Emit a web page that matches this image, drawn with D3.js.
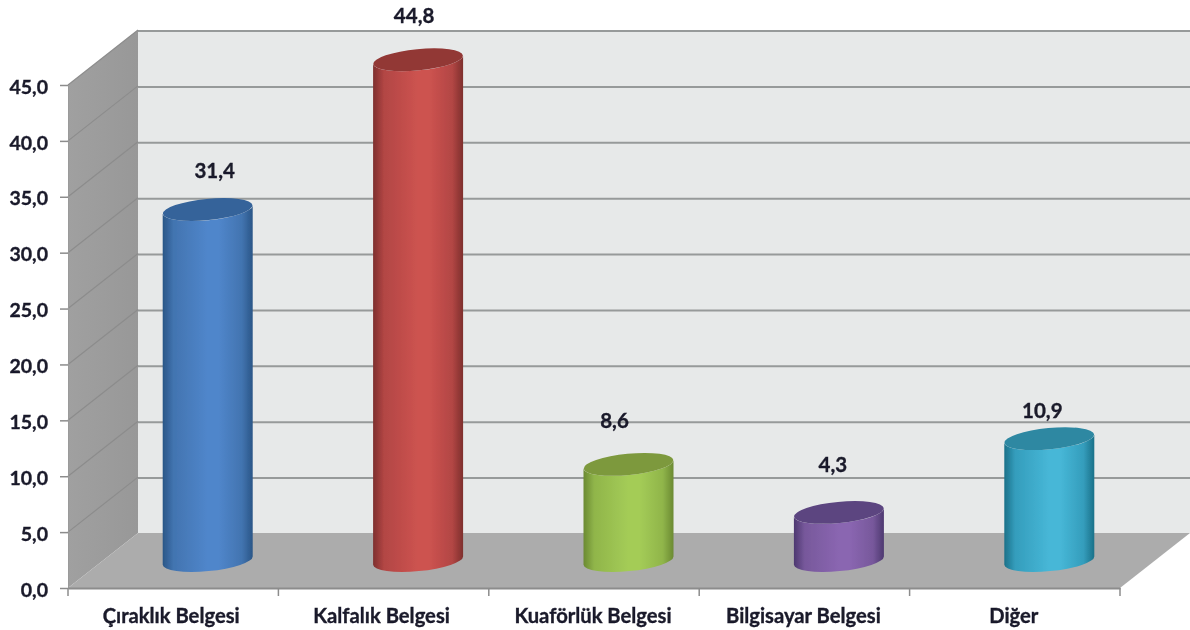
<!DOCTYPE html>
<html>
<head>
<meta charset="utf-8">
<script src="https://cdn.jsdelivr.net/npm/d3@7"></script>
<style>
html,body{margin:0;padding:0;background:#fff;}
svg{display:block;}
text{font-family:Lato,"Open Sans",sans-serif;font-weight:700;fill:#1a1a2a;stroke:#1a1a2a;stroke-width:0.35px;}
</style>
</head>
<body>
<svg id="chart" width="1190" height="630"></svg>
<script>
const categories = ["Çıraklık Belgesi","Kalfalık Belgesi","Kuaförlük Belgesi","Bilgisayar Belgesi","Diğer"];
const values = [31.4,44.8,8.6,4.3,10.9];
const valueLabels = ["31,4","44,8","8,6","4,3","10,9"];
const yTicks = [0,5,10,15,20,25,30,35,40,45];
const palette = [
  {edge:"#2a5687",mid:"#4274b0",light:"#5086cb",top:"#35639a"},
  {edge:"#7e2f2d",mid:"#b24644",light:"#cd5350",top:"#923735"},
  {edge:"#6b8a32",mid:"#90b54a",light:"#a4cc57",top:"#7d993c"},
  {edge:"#4d3870",mid:"#77589b",light:"#8a66b1",top:"#5c4580"},
  {edge:"#1b7189",mid:"#349dbc",light:"#47b7d7",top:"#2d88a2"}
];

const svg = d3.select("#chart");
const x0 = 68, x1 = 1120, yBase = 588, yTop = 85, depthX = 70, depthY = 55;
const y = d3.scaleLinear().domain([0,45]).range([yBase,yTop]);
const x = d3.scaleBand().domain(categories).range([x0,x1]);
const defs = svg.append("defs");

defs.append("filter").attr("id","soft").append("feGaussianBlur").attr("stdDeviation",0.6);
const sideGrad = defs.append("linearGradient").attr("id","side").attr("x1",0).attr("x2",1).attr("y1",0).attr("y2",0);
sideGrad.append("stop").attr("offset",0).attr("stop-color","#a0a0a0");
sideGrad.append("stop").attr("offset",1).attr("stop-color","#989898");

palette.forEach((p,i)=>{
  const g = defs.append("linearGradient").attr("id","cyl"+i).attr("x1",0).attr("x2",1).attr("y1",0).attr("y2",0);
  [[0,p.edge],[0.12,p.mid],[0.5,p.light],[0.62,p.light],[0.88,p.mid],[1,p.edge]].forEach(s=>
    g.append("stop").attr("offset",s[0]).attr("stop-color",s[1]));
});

const root = svg.append("g").attr("filter","url(#soft)");

// walls and floor
const poly = pts => "M"+pts.map(p=>p.join(",")).join("L")+"Z";
root.append("path").attr("fill","#e7e9e9")
  .attr("d",poly([[x0+depthX,y(45)-depthY],[x1+depthX,y(45)-depthY],[x1+depthX,yBase-depthY],[x0+depthX,yBase-depthY]]));
root.append("path").attr("fill","url(#side)")
  .attr("d",poly([[x0,y(45)],[x0+depthX,y(45)-depthY],[x0+depthX,yBase-depthY],[x0,yBase]]));
root.append("path").attr("fill","#acacac")
  .attr("d",poly([[x0,yBase],[x0+depthX,yBase-depthY],[x1+depthX,yBase-depthY],[x1,yBase]]));

// gridlines
yTicks.filter(d=>d>0).forEach(d=>{
  root.append("line").attr("x1",x0+depthX).attr("x2",x1+depthX)
    .attr("y1",y(d)-depthY+1).attr("y2",y(d)-depthY+1)
    .attr("stroke","#979a9a").attr("stroke-width",2);
  root.append("line").attr("x1",x0).attr("x2",x0+depthX)
    .attr("y1",y(d)).attr("y2",y(d)-depthY)
    .attr("stroke","#8c8c8c").attr("stroke-width",1.2);
});

// axes
const yAxis = d3.axisLeft(y).tickValues(yTicks).tickSize(8).tickPadding(12)
  .tickFormat(d=>d.toFixed(1).replace(".",","));
const gy = root.append("g").attr("transform",`translate(${x0},0)`).call(yAxis);
gy.select(".domain").attr("stroke","#9a9a9a").attr("stroke-width",1);
gy.selectAll(".tick line").attr("stroke","#8c8c8c").attr("stroke-width",1.5);
gy.selectAll("text").attr("font-size",19.5).attr("dy","0.42em");

const xAxis = d3.axisBottom(x).tickValues([]).tickSize(0);
const gx = root.append("g").attr("transform",`translate(0,${yBase})`).call(xAxis);
gx.select(".domain").attr("stroke","#8c8c8c").attr("stroke-width",2);
const boundaries = categories.map(c=>x(c)).concat([x1]);
gx.selectAll("line.b").data(boundaries).enter().append("line").attr("class","b")
  .attr("x1",d=>d).attr("x2",d=>d).attr("y1",0).attr("y2",8)
  .attr("stroke","#8c8c8c").attr("stroke-width",1.5);
const labelNudge = [-2,-2,-1,-1,-1];
gx.selectAll("text.c").data(categories).enter().append("text").attr("class","c")
  .attr("x",(d,i)=>x(d)+x.bandwidth()/2+labelNudge[i]).attr("y",35)
  .attr("text-anchor","middle").attr("font-size",20.2).text(d=>d);

// cylinders
const rx = 45, ry = 10.6, tilt = -5.5, cx = d=>x(d)+x.bandwidth()/2+depthX/2-0.5, floorShift = depthY/2;
const sx = 4.3; // vertical offset of the silhouette ends, from the tilt
const cyl = root.selectAll("g.cyl").data(values).enter().append("g").attr("class","cyl");
cyl.append("path").attr("fill",(d,i)=>`url(#cyl${i})`).attr("d",(d,i)=>{
  const c = cx(categories[i]), yb = y(0)-floorShift, yt = y(d)-floorShift;
  return `M${c-rx},${yt+sx}L${c-rx},${yb+sx}A${rx},${ry} ${tilt} 0 0 ${c+rx},${yb-sx}L${c+rx},${yt-sx}A${rx},${ry} ${tilt} 0 1 ${c-rx},${yt+sx}Z`;
});
cyl.append("ellipse").attr("rx",rx).attr("ry",ry).attr("fill",(d,i)=>palette[i].top)
  .attr("transform",(d,i)=>`translate(${cx(categories[i])},${y(d)-floorShift}) rotate(${tilt})`);

// value labels
const labelDx = [7,-4,-14,-6,-7], labelDy = [-32,-37,-36,-40,-21];
root.selectAll("text.v").data(valueLabels).enter().append("text").attr("class","v")
  .attr("x",(d,i)=>cx(categories[i])+labelDx[i])
  .attr("y",(d,i)=>y(values[i])-floorShift+labelDy[i])
  .attr("text-anchor","middle").attr("font-size",20.5).text(d=>d);
</script>
</body>
</html>
